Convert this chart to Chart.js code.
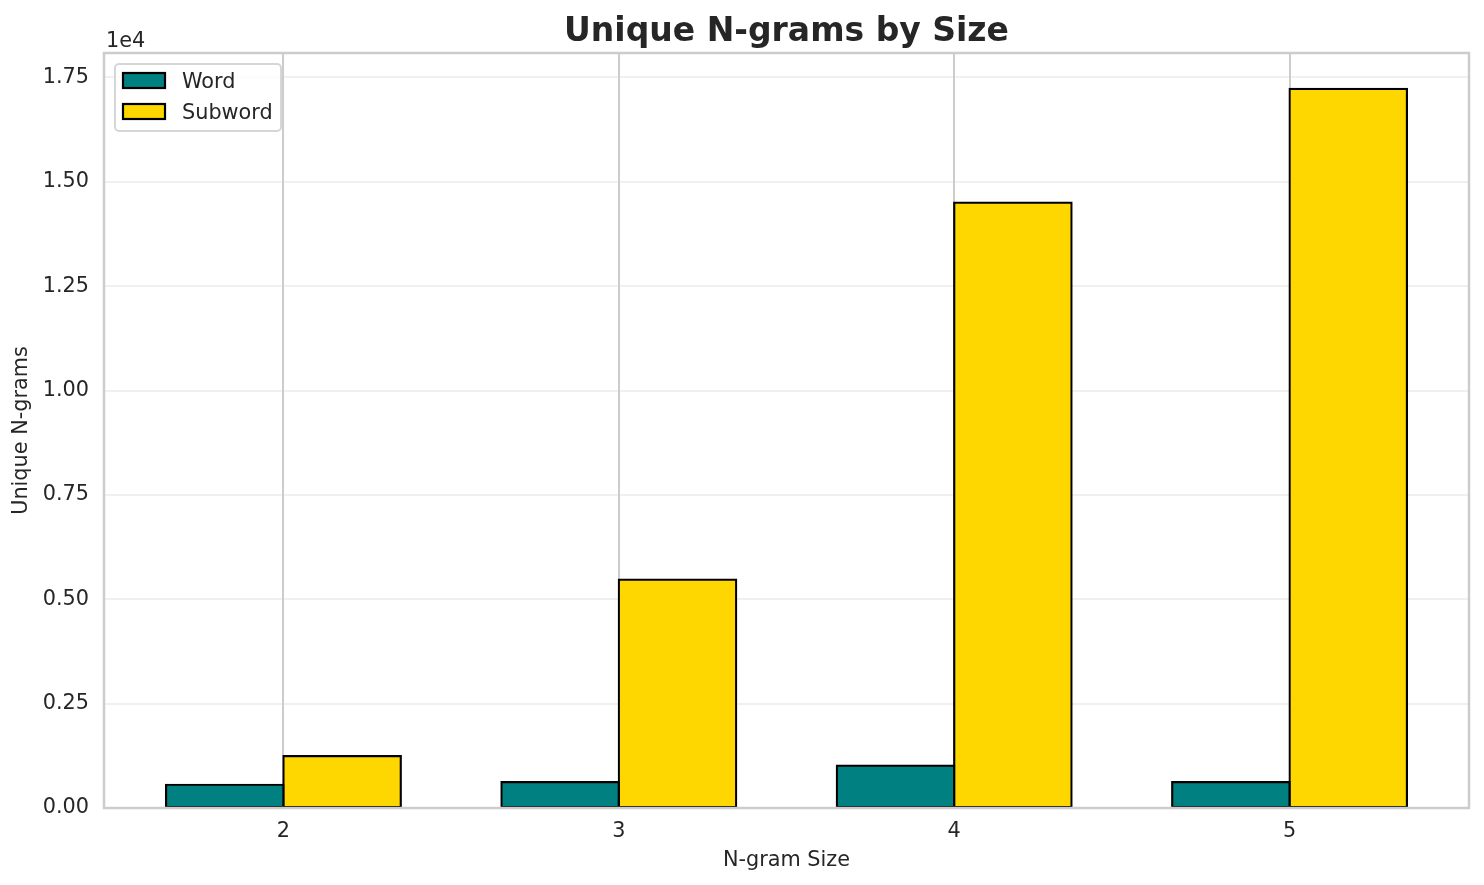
<!DOCTYPE html>
<html>
<head>
<meta charset="utf-8">
<title>Unique N-grams by Size</title>
<script src="https://cdn.jsdelivr.net/npm/chart.js@4.4.1/dist/chart.umd.min.js"></script>
<style>
  html, body { margin: 0; padding: 0; background: #fff; }
  #wrap { width: 1484px; height: 885px; }
</style>
</head>
<body>
<div id="wrap"><canvas id="ngramChart" width="1484" height="885"></canvas></div>
<script>
// n-gram sizes along the x axis
const ngramSizes = [2, 3, 4, 5];
// unique n-gram counts
const wordCounts = [557, 620, 1013, 620];
const subwordCounts = [1244, 5471, 14500, 17224];
// y ticks, printed in units of 1e4
const yTickValues = [0, 2500, 5000, 7500, 10000, 12500, 15000, 17500];
const yTickLabels = ['0.00', '0.25', '0.50', '0.75', '1.00', '1.25', '1.50', '1.75'];

const TEXT = '#262626';
const FONT = 'DejaVu Sans';
const EDGE = '#cccccc';

Chart.defaults.font.family = FONT;
Chart.defaults.color = TEXT;

// matplotlib-like auto margins: bars are 0.35 wide on each side of the tick
const barW = 0.35;
const xSpan = (ngramSizes[ngramSizes.length - 1] + barW) - (ngramSizes[0] - barW);
const xMin = ngramSizes[0] - barW - 0.05 * xSpan;
const xMax = ngramSizes[ngramSizes.length - 1] + barW + 0.05 * xSpan;
const yMax = 1.05 * Math.max(...subwordCounts);

/**
 * Draws the four axis spines on top of the bars.
 */
const spinesPlugin = {
    id: 'spines',
    afterDatasetsDraw(chart) {
        const { ctx, chartArea: a } = chart;
        ctx.save();
        ctx.strokeStyle = EDGE;
        ctx.lineWidth = 2.5;
        ctx.strokeRect(a.left, a.top, a.right - a.left, a.bottom - a.top);
        ctx.restore();
    }
};

/**
 * Legend box in the upper-left corner of the plot area.
 */
const innerLegendPlugin = {
    id: 'innerLegend',
    afterDraw(chart) {
        const { ctx, chartArea: a } = chart;
        const x = a.left + 11, y = a.top + 11, w = 166, h = 67;
        ctx.save();
        ctx.beginPath();
        ctx.roundRect(x, y, w, h, 4);
        ctx.fillStyle = 'rgba(255,255,255,0.8)';
        ctx.fill();
        ctx.strokeStyle = '#d6d6d6';
        ctx.lineWidth = 2;
        ctx.stroke();

        ctx.font = '20.8px ' + FONT;
        ctx.textBaseline = 'alphabetic';
        ctx.textAlign = 'left';
        chart.data.datasets.forEach((ds, i) => {
            const ry = y + 9 + i * 31;
            ctx.fillStyle = ds.backgroundColor;
            ctx.fillRect(x + 8, ry, 42, 15);
            ctx.strokeStyle = ds.borderColor;
            ctx.lineWidth = 2.2;
            ctx.strokeRect(x + 8, ry, 42, 15);
            ctx.fillStyle = TEXT;
            ctx.fillText(ds.label, x + 67, ry + 15);
        });
        ctx.restore();
    }
};

/**
 * The "1e4" multiplier above the y axis.
 */
const offsetTextPlugin = {
    id: 'offsetText',
    afterDraw(chart) {
        const { ctx, chartArea: a } = chart;
        ctx.save();
        ctx.font = '20.8px ' + FONT;
        ctx.fillStyle = TEXT;
        ctx.textAlign = 'left';
        ctx.textBaseline = 'alphabetic';
        ctx.fillText('1e4', a.left + 2, a.top - 6);
        ctx.restore();
    }
};

const ctx = document.getElementById('ngramChart');
new Chart(ctx, {
    type: 'bar',
    data: {
        datasets: [{
            label: 'Word',
            data: ngramSizes.map((n, i) => ({ x: n, y: wordCounts[i] })),
            backgroundColor: '#008080',
            borderColor: '#000000',
            borderWidth: 2.2,
            inflateAmount: 1.1,
            borderSkipped: false
        }, {
            label: 'Subword',
            data: ngramSizes.map((n, i) => ({ x: n, y: subwordCounts[i] })),
            backgroundColor: '#FFD700',
            borderColor: '#000000',
            borderWidth: 2.2,
            inflateAmount: 1.1,
            borderSkipped: false
        }]
    },
    options: {
        responsive: false,
        devicePixelRatio: 1,
        animation: false,
        categoryPercentage: 2 * barW,
        barPercentage: 1.0,
        layout: { padding: { left: 0, right: 15, top: 0, bottom: 0 } },
        plugins: {
            legend: { display: false },
            tooltip: { enabled: false },
            title: {
                display: true,
                text: 'Unique N-grams by Size',
                fullSize: false,
                color: TEXT,
                font: { size: 33, weight: 'bold' },
                padding: { top: 13, bottom: 0.4 }
            }
        },
        scales: {
            x: {
                type: 'linear',
                offset: false,
                min: xMin,
                max: xMax,
                afterBuildTicks: (scale) => { scale.ticks = ngramSizes.map(v => ({ value: v })); },
                afterFit: (scale) => { scale.height = 77; },
                ticks: {
                    callback: (v) => String(v),
                    font: { size: 20.8 },
                    color: TEXT,
                    padding: 11,
                    maxRotation: 0
                },
                grid: { color: EDGE, lineWidth: 2, drawTicks: false, offset: false },
                border: { display: false },
                title: {
                    display: true,
                    text: 'N-gram Size',
                    font: { size: 20.8 },
                    color: TEXT,
                    padding: { top: 12, bottom: 12 }
                }
            },
            y: {
                min: 0,
                max: yMax,
                afterBuildTicks: (scale) => { scale.ticks = yTickValues.map(v => ({ value: v })); },
                afterFit: (scale) => { scale.width = 104; },
                ticks: {
                    callback: (v) => yTickLabels[yTickValues.indexOf(v)],
                    font: { size: 20.8 },
                    color: TEXT,
                    padding: 15
                },
                grid: { color: 'rgba(204,204,204,0.3)', lineWidth: 2, drawTicks: false },
                border: { display: false },
                title: {
                    display: true,
                    text: 'Unique N-grams',
                    font: { size: 20.8 },
                    color: TEXT,
                    padding: { top: 9, bottom: 9 }
                }
            }
        }
    },
    plugins: [spinesPlugin, innerLegendPlugin, offsetTextPlugin]
});
</script>
</body>
</html>
